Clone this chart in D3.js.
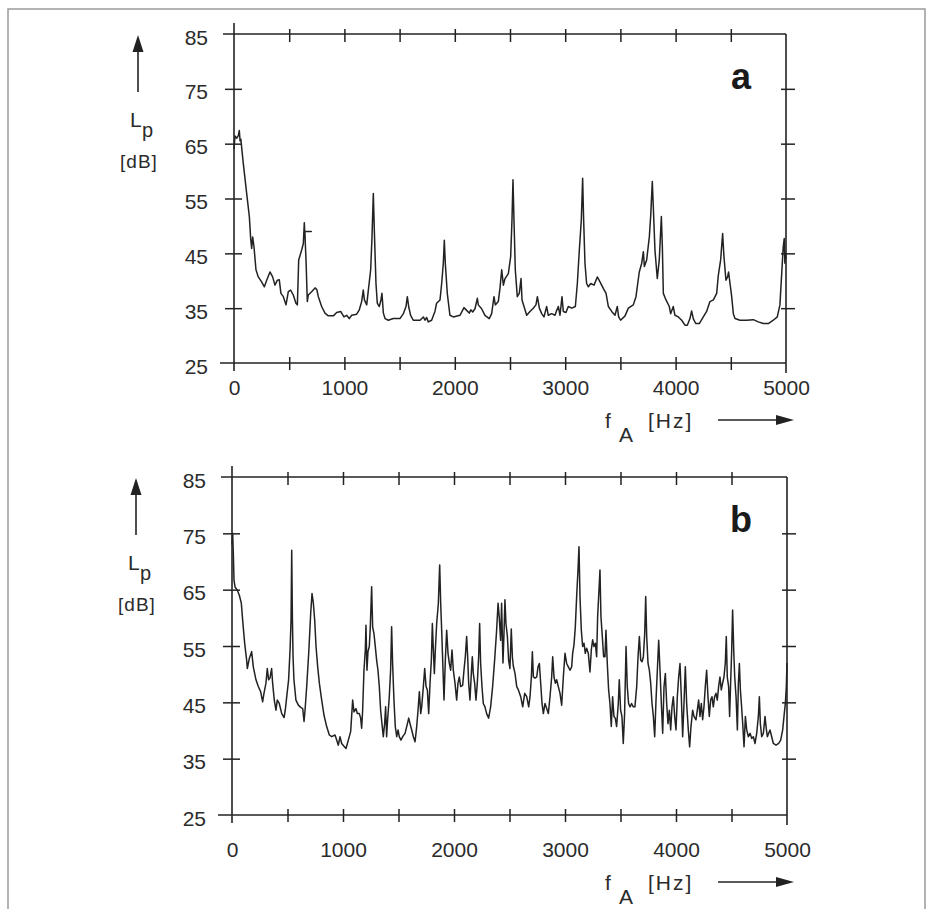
<!DOCTYPE html>
<html>
<head>
<meta charset="utf-8">
<script src="https://cdn.jsdelivr.net/npm/d3@7"></script>
<style>
  html, body { margin: 0; padding: 0; background: #fff; }
  svg { display: block; }
  text { font-family: "Liberation Sans", Arial, sans-serif; fill: #2b2b2b; }
</style>
</head>
<body>
<div id="chart"></div>
<script>
// axis values
const freqTicks = [0, 500, 1000, 1500, 2000, 2500, 3000, 3500, 4000, 4500, 5000];
const freqLabels = [0, 1000, 2000, 3000, 4000, 5000];
const levelTicks = [25, 35, 45, 55, 65, 75, 85];

// spectrum a: [frequency Hz, level dB]
const spectrumA = [
  [0, 64], [9, 66.4], [25, 66], [40, 66.5], [48, 67.4], [55, 65.5], [62, 65.8], [84, 61.4], [115, 55.9],
  [139, 51.7], [151, 47.7], [160, 45.9], [169, 48], [181, 46.2], [199, 42], [220, 40.7], [250, 39.8],
  [275, 38.9], [296, 40.1], [326, 41.6], [350, 40.7], [371, 39.2], [393, 40.1], [410, 40.2], [425, 37.7],
  [447, 37.1], [471, 35.6], [492, 38], [513, 38.3], [537, 37.4], [561, 35.9], [574, 35.6], [586, 43.8],
  [613, 45.6], [628, 46.8], [637, 50.6], [640, 49], [700, 49], [642, 49], [646, 46.8], [652, 44],
  [664, 36.2], [673, 37.4], [703, 38],
  [734, 38.7], [750, 38.4], [764, 37.1], [794, 35.3], [824, 34.1], [854, 33.6], [900, 33.6], [930, 34.2],
  [966, 34.4], [996, 33.4], [1020, 33.7], [1044, 33.1], [1066, 33.7], [1111, 33.9], [1135, 34.7],
  [1156, 36.2], [1171, 38.3], [1181, 36.5], [1202, 35.6], [1217, 38.3], [1238, 42], [1250, 48],
  [1262, 55.9], [1271, 49.3], [1286, 39.5], [1298, 35.9], [1316, 35.3], [1331, 36.5], [1340, 37.7],
  [1353, 34.1], [1368, 33.1], [1398, 32.8], [1443, 33.1], [1503, 33.1], [1534, 34], [1558, 35.3],
  [1570, 37.1], [1582, 35.3], [1600, 33.7], [1624, 32.8], [1685, 32.8], [1715, 33.4], [1730, 32.8],
  [1745, 33.3], [1760, 32.5], [1790, 32.8], [1820, 34.4], [1835, 35.9], [1866, 36.5], [1881, 39.5],
  [1896, 43.2], [1905, 47.4], [1914, 43.2], [1932, 37.7], [1956, 33.7], [1986, 33.4], [2047, 33.7],
  [2083, 35.1], [2107, 34.6], [2131, 34.1], [2145, 34.7], [2162, 34.3], [2183, 34.9], [2204, 36.8],
  [2213, 35.6], [2243, 34.9], [2273, 33.7], [2312, 33.1], [2334, 34], [2355, 37.1], [2367, 35.6],
  [2394, 36.2], [2409, 38.6], [2425, 42], [2440, 39.2], [2455, 40.4], [2485, 41.3], [2506, 44.4],
  [2518, 51.1], [2527, 58.4], [2536, 51.1], [2548, 42], [2566, 37.1], [2584, 37.7], [2600, 40.4],
  [2609, 36.5], [2627, 35.3], [2651, 33.7], [2681, 34.4], [2711, 35], [2735, 35.6], [2748, 37.1],
  [2766, 35], [2787, 34], [2808, 33.4], [2832, 35.3], [2847, 33.7], [2877, 34], [2908, 33.7],
  [2923, 34.6], [2938, 35.3], [2953, 33.7], [2971, 37.1], [2983, 34.4], [3007, 34.2], [3028, 35.3],
  [3059, 35], [3092, 35.3], [3110, 39.5], [3128, 45.6], [3146, 51.1], [3158, 58.7], [3167, 51.1],
  [3179, 43.2], [3194, 39.5], [3210, 38.9], [3231, 39.5], [3261, 39.2], [3291, 40.7], [3315, 39.8],
  [3345, 38.6], [3370, 37.7], [3391, 35.3], [3421, 34.4], [3451, 33.7], [3472, 35.3], [3484, 33.4],
  [3502, 32.8], [3542, 33.6], [3572, 35], [3617, 35.6], [3641, 37.1], [3671, 41.6], [3693, 43.2],
  [3708, 45.3], [3717, 42.6], [3738, 43.8], [3762, 48], [3774, 51.7], [3789, 58.1], [3798, 53.5],
  [3813, 45.6], [3834, 40.4], [3852, 43.8], [3871, 51.7], [3880, 46.2], [3889, 37.7], [3913, 36.5],
  [3943, 35.3], [3955, 34], [3979, 35.3], [3994, 33.7], [4025, 33.4], [4055, 32.8], [4085, 31.9],
  [4106, 31.9], [4130, 33.1], [4145, 34.5], [4160, 33.1], [4182, 32.2], [4215, 32.2], [4251, 33.4],
  [4281, 34.4], [4311, 36.2], [4342, 36.5], [4372, 37.7], [4387, 41], [4408, 43.8], [4426, 48.6],
  [4438, 44.4], [4456, 40.1], [4471, 40.7], [4480, 41.6], [4493, 39.5], [4508, 37.1], [4523, 34],
  [4538, 33.1], [4583, 32.8], [4643, 32.8], [4704, 32.9], [4749, 32.5], [4794, 32.2], [4840, 32.2],
  [4885, 32.8], [4921, 33.4], [4945, 35.6], [4963, 42], [4975, 46.2], [4984, 47.7], [4990, 43.2],
  [4995, 45], [5000, 44]
];

// spectrum b
const spectrumB = [
  [0, 73], [6, 75], [12, 71.4], [18, 66.7], [27, 65.5], [48, 64.9], [66, 64], [84, 62.6], [96, 59.6],
  [114, 55.5], [132, 52.5], [138, 51], [156, 52.8], [177, 54], [192, 51.3], [216, 49], [237, 47.8],
  [258, 46.9], [276, 45.1], [288, 46.6], [306, 48.4], [318, 51], [330, 49], [342, 49.3], [357, 51],
  [366, 48.4], [381, 45.4], [396, 43.6], [408, 45.4], [426, 44.8], [448, 43], [469, 42.3], [480, 43.6],
  [493, 46], [510, 49], [523, 54.3], [532, 59.6], [538, 72], [544, 60.2], [550, 53.1], [558, 49],
  [576, 45.4], [598, 44.5], [619, 44.1], [637, 43.9], [649, 41.6], [658, 43.6], [673, 47.8], [691, 53.7],
  [709, 60.8], [721, 64.3], [733, 62.6], [745, 59.6], [757, 54.9], [772, 51.3], [787, 48.4], [808, 45.4],
  [829, 42.7], [853, 40.7], [877, 39.2], [898, 38.9], [928, 39.2], [943, 38.3], [958, 37.4], [973, 38.9],
  [988, 37.7], [1009, 37.2], [1027, 36.8], [1048, 38.3], [1069, 39.8], [1087, 45.4], [1099, 43.3],
  [1117, 43.9], [1129, 43], [1147, 43], [1159, 42.2], [1168, 40.4], [1177, 43.6], [1189, 50.7],
  [1201, 54.3], [1207, 58.7], [1216, 50.7], [1225, 54], [1237, 54.9], [1246, 58.4], [1258, 65.5],
  [1267, 58.4], [1279, 57.2], [1291, 54.9], [1303, 52.5], [1315, 50.7], [1327, 47.8], [1339, 43.6],
  [1351, 41.2], [1363, 38.9], [1375, 41.2], [1384, 44.2], [1393, 38.9], [1402, 41.9], [1417, 46],
  [1429, 50.7], [1438, 58.4], [1447, 51.9], [1459, 45.4], [1471, 40.7], [1484, 38.9], [1496, 40.1],
  [1507, 38.9], [1522, 38.3], [1538, 38.9], [1559, 39.5], [1574, 40.7], [1592, 42.2], [1604, 41.2],
  [1619, 40.1], [1634, 38.9], [1649, 38], [1664, 40.7], [1676, 43.6], [1688, 46.9], [1700, 43],
  [1709, 44.2], [1724, 47.8], [1736, 51], [1748, 47.8], [1760, 47.2], [1772, 43], [1784, 48.4],
  [1796, 52.5], [1805, 59], [1814, 54.3], [1823, 50.1], [1832, 54.3], [1844, 59], [1859, 62.6],
  [1871, 69.4], [1880, 62.6], [1889, 57.8], [1898, 52.5], [1910, 45.4], [1922, 52.5], [1934, 57.8],
  [1946, 53.7], [1958, 51.9], [1970, 50.7], [1982, 54.3], [1994, 50.7], [2009, 48.4], [2024, 45.4],
  [2036, 48.4], [2048, 49.5], [2060, 47.8], [2078, 48], [2090, 50.7], [2102, 53.1], [2114, 56.7],
  [2123, 53.1], [2132, 48.4], [2144, 45.4], [2156, 50.1], [2165, 53.1], [2174, 50.1], [2186, 48.4],
  [2198, 45.4], [2210, 48.4], [2222, 53.1], [2231, 59], [2240, 51.9], [2252, 47.8], [2264, 44.8],
  [2279, 44.2], [2294, 43], [2312, 42.2], [2330, 44.2], [2348, 47.8], [2366, 52.5], [2384, 57.8],
  [2397, 62.6], [2408, 60], [2420, 56], [2429, 62.6], [2441, 52], [2450, 57], [2459, 63.2], [2468, 59],
  [2481, 56.7], [2492, 52.5], [2504, 51], [2516, 58], [2526, 53], [2534, 51.5], [2550, 50.1],
  [2565, 47.8], [2580, 47.2], [2601, 46], [2619, 44.2], [2637, 46.6], [2655, 46], [2673, 44.2],
  [2685, 46], [2697, 49.5], [2706, 54], [2715, 49.5], [2730, 49.3], [2745, 49.5], [2757, 51.3],
  [2769, 51.9], [2781, 48.4], [2793, 44.8], [2805, 43], [2820, 44.8], [2835, 43.9], [2850, 43],
  [2865, 46], [2880, 49.5], [2889, 53.1], [2901, 49.5], [2913, 48.4], [2925, 49], [2940, 47.8],
  [2955, 46.6], [2970, 44.5], [2985, 49.5], [3000, 53.7], [3015, 51.9], [3030, 51.3], [3045, 50.7],
  [3060, 51.3], [3069, 53.7], [3081, 55.2], [3093, 58.4], [3105, 63.8], [3117, 68.5], [3126, 72.6],
  [3135, 63.8], [3147, 57.8], [3159, 54.9], [3171, 55.5], [3183, 53.7], [3195, 54.6], [3210, 53.7],
  [3225, 50.4], [3237, 54.3], [3249, 56.1], [3261, 54.9], [3273, 55.5], [3285, 53.1], [3294, 60.2],
  [3306, 64.9], [3315, 68.5], [3324, 60.2], [3336, 56.7], [3348, 53.1], [3360, 53.1], [3369, 57.8],
  [3381, 51.9], [3393, 47.2], [3405, 44.8], [3417, 40.7], [3429, 46], [3441, 42.5], [3453, 42.2],
  [3465, 40.7], [3480, 44.8], [3489, 49], [3501, 43.6], [3513, 42.5], [3525, 37.7], [3537, 43],
  [3550, 54.9], [3561, 47.8], [3573, 44.8], [3586, 44.2], [3600, 44.8], [3615, 44.2], [3630, 44.2],
  [3646, 47.8], [3658, 53.1], [3670, 56.7], [3682, 52.5], [3694, 52.2], [3706, 53.1], [3718, 57.2],
  [3727, 63.8], [3736, 56.7], [3748, 51.9], [3760, 50.7], [3772, 48.4], [3784, 44.8], [3796, 42.5],
  [3808, 38.9], [3820, 45.4], [3832, 50.7], [3844, 56], [3856, 50.7], [3868, 44.8], [3880, 39.5],
  [3892, 47.8], [3904, 50.1], [3916, 44.8], [3928, 41.2], [3940, 43.6], [3952, 40.1], [3964, 44.2],
  [3976, 46], [3988, 42.5], [4000, 40.1], [4012, 46], [4024, 49.5], [4036, 51.9], [4048, 46],
  [4060, 38.9], [4072, 44.8], [4084, 51.3], [4096, 44.8], [4111, 40.1], [4123, 37.1], [4135, 40.7],
  [4150, 43.6], [4162, 42.5], [4180, 41.9], [4192, 43.6], [4204, 45.4], [4216, 42.5], [4228, 44.8],
  [4240, 41.9], [4252, 44.2], [4264, 47.8], [4276, 50.7], [4288, 46], [4300, 42.5], [4312, 45.4],
  [4324, 46], [4336, 44.2], [4348, 46], [4360, 46.6], [4372, 45.4], [4384, 47.8], [4396, 49.5],
  [4408, 47.2], [4420, 48.4], [4432, 49.5], [4444, 51.9], [4453, 56.7], [4462, 49.5], [4474, 47.8],
  [4483, 42.5], [4492, 48.4], [4501, 53.7], [4510, 61.4], [4520, 54.3], [4529, 49.5], [4541, 46],
  [4553, 40.1], [4562, 48.4], [4571, 51.9], [4580, 47.2], [4589, 44.8], [4601, 41.2], [4613, 37.1],
  [4625, 42.5], [4637, 40.1], [4652, 38.9], [4667, 39.5], [4682, 38.6], [4697, 38.9], [4712, 37.7],
  [4727, 39.5], [4742, 42.5], [4751, 46], [4760, 41.2], [4772, 38.9], [4787, 39.5], [4802, 42.5],
  [4811, 40.7], [4823, 38.9], [4835, 39.5], [4847, 40.1], [4862, 38.9], [4877, 37.7], [4901, 37.4],
  [4925, 37.7], [4943, 38.3], [4961, 40.1], [4973, 42.5], [4985, 44.8], [4994, 47.8], [5000, 52]
];

const W = 928, H = 909;
const ink = "#222";

const svg = d3.select("#chart").append("svg")
  .attr("width", W)
  .attr("height", H);

// thin frame of the figure box (open at the bottom)
svg.append("path")
  .attr("d", "M8,909V9H925V909")
  .attr("fill", "none")
  .attr("stroke", "#9a9a9a")
  .attr("stroke-width", 1.5);

const panels = [
  { name: "a", data: spectrumA, x0: 234, x1: 786, top: 34, bottom: 363, shift: 0 },
  { name: "b", data: spectrumB, x0: 232, x1: 787, top: 477, bottom: 815, shift: 10 }
];

function drawPanel(p) {
  const x = d3.scaleLinear().domain([0, 5000]).range([p.x0, p.x1]);
  const y = d3.scaleLinear().domain([25, 85]).range([p.bottom, p.top]);
  const g = svg.append("g").attr("color", ink);

  // frame lines run a little past the corners, like the plotter drawing
  const frame = [
    [p.x0, p.top - 11, p.x0, p.bottom + 8],
    [p.x0 - 11, p.top, p.x1, p.top],
    [p.x0 - 14, p.bottom, p.x1, p.bottom],
    [p.x1, p.top, p.x1, p.bottom + 10]
  ];
  g.selectAll("line.frame").data(frame).join("line")
    .attr("class", "frame")
    .attr("x1", d => d[0]).attr("y1", d => d[1])
    .attr("x2", d => d[2]).attr("y2", d => d[3])
    .attr("stroke", ink).attr("stroke-width", 1.6);

  const inner = v => v !== 25 && v !== 85;
  const innerF = v => v !== 0 && v !== 5000;

  // left axis with labels, ticks crossing the line
  const left = g.append("g")
    .attr("transform", `translate(${p.x0},0)`)
    .call(d3.axisLeft(y).tickValues(levelTicks).tickSize(9).tickPadding(17).tickFormat(d3.format("d")));
  left.select(".domain").remove();
  left.selectAll(".tick line")
    .attr("x1", 8).attr("x2", -9)
    .attr("stroke-width", 1.5)
    .style("display", d => inner(d) ? null : "none");
  left.selectAll(".tick text").attr("dy", 10).attr("font-size", 21);

  // right axis ticks only
  const right = g.append("g")
    .attr("transform", `translate(${p.x1},0)`)
    .call(d3.axisRight(y).tickValues(levelTicks.filter(inner)).tickSize(9).tickFormat(""));
  right.select(".domain").remove();
  right.selectAll(".tick line").attr("x1", -5).attr("x2", 9).attr("stroke-width", 1.5);

  // top axis ticks only
  const topAx = g.append("g")
    .attr("transform", `translate(0,${p.top})`)
    .call(d3.axisTop(x).tickValues(freqTicks.filter(innerF)).tickSize(5).tickFormat(""));
  topAx.select(".domain").remove();
  topAx.selectAll(".tick line").attr("y1", 8).attr("y2", -5).attr("stroke-width", 1.5);

  // bottom axis with labels every 1000 Hz
  const bottomAx = g.append("g")
    .attr("transform", `translate(0,${p.bottom})`)
    .call(d3.axisBottom(x).tickValues(freqTicks).tickSize(7)
      .tickFormat(d => freqLabels.includes(d) ? d : ""));
  bottomAx.select(".domain").remove();
  bottomAx.selectAll(".tick line")
    .attr("y1", -6).attr("y2", 7)
    .attr("stroke-width", 1.5)
    .style("display", d => innerF(d) ? null : "none");
  bottomAx.selectAll(".tick text")
    .attr("y", 32 + p.shift).attr("dy", 0).attr("font-size", 21);

  // spectrum curve
  const line = d3.line().x(d => x(d[0])).y(d => y(d[1]));
  g.append("path")
    .datum(p.data)
    .attr("d", line)
    .attr("fill", "none")
    .attr("stroke", ink)
    .attr("stroke-width", 1.5)
    .attr("stroke-linejoin", "round");

  // panel letter
  g.append("text")
    .attr("x", 741).attr("y", p.top + 55)
    .attr("text-anchor", "middle")
    .attr("font-size", 36).attr("font-weight", "bold")
    .style("fill", "#1a1a1a")
    .text(p.name);

  // y title: arrow, L_p, [dB]
  const ax = p.x0 - 96;
  g.append("line")
    .attr("x1", ax).attr("x2", ax)
    .attr("y1", p.top + 58).attr("y2", p.top + 14)
    .attr("stroke", ink).attr("stroke-width", 1.6);
  g.append("path")
    .attr("d", `M${ax},${p.top + 1}L${ax - 5.5},${p.top + 18}L${ax + 5.5},${p.top + 18}Z`)
    .attr("fill", ink);
  g.append("text").attr("x", p.x0 - 104).attr("y", p.top + 93).attr("font-size", 21).text("L");
  g.append("text").attr("x", p.x0 - 92).attr("y", p.top + 103).attr("font-size", 20).text("p");
  g.append("text").attr("x", p.x0 - 95).attr("y", p.top + 134)
    .attr("text-anchor", "middle").attr("font-size", 19).attr("letter-spacing", 1)
    .text("[dB]");

  // x title: f_A [Hz] and arrow
  const tb = p.bottom + p.shift;
  g.append("text").attr("x", 605).attr("y", tb + 65).attr("font-size", 21).text("f");
  g.append("text").attr("x", 619).attr("y", tb + 79).attr("font-size", 21).text("A");
  g.append("text").attr("x", 648).attr("y", tb + 65).attr("font-size", 21)
    .attr("letter-spacing", 2).text("[Hz]");
  g.append("line")
    .attr("x1", 718).attr("x2", 780)
    .attr("y1", tb + 57).attr("y2", tb + 57)
    .attr("stroke", ink).attr("stroke-width", 1.6);
  g.append("path")
    .attr("d", `M794,${tb + 57}L776,${tb + 52}L776,${tb + 62}Z`)
    .attr("fill", ink);
}

panels.forEach(drawPanel);
</script>
</body>
</html>
